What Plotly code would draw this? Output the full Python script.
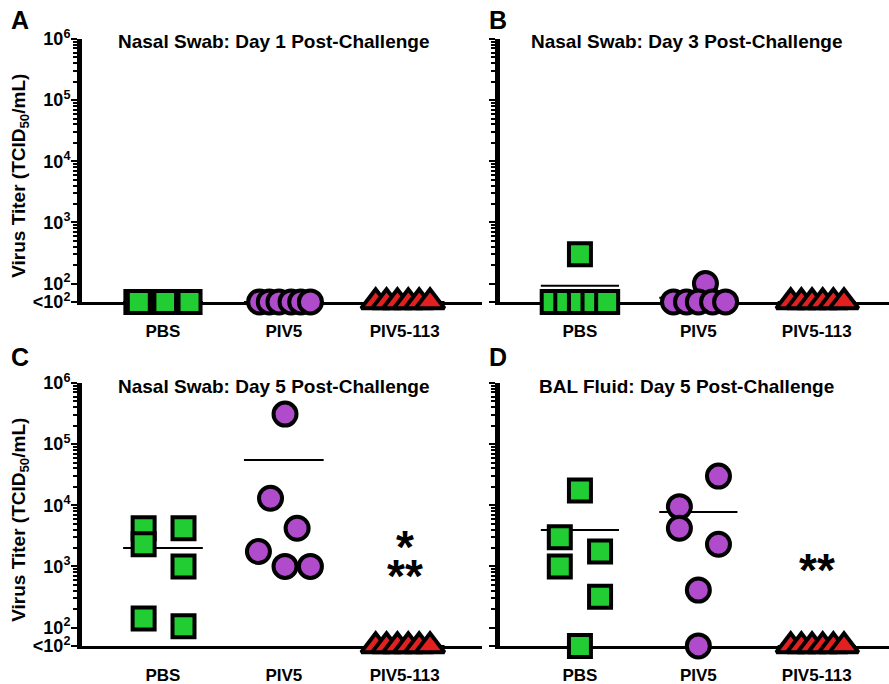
import numpy as np
import plotly.graph_objects as go

# ---------------- data ----------------
LOD = 10 ** 1.7  # plotted value for "<10^2" (below detection)
groups = ["PBS", "PIV5", "PIV5-113"]

A_pbs = [LOD] * 6
A_piv5 = [LOD] * 6
A_113 = [LOD] * 6

B_pbs = [300, LOD, LOD, LOD, LOD, LOD]
B_piv5 = [100, LOD, LOD, LOD, LOD, LOD]
B_113 = [LOD] * 6

C_pbs = [4200, 2300, 4200, 1000, 140, 105]
C_piv5 = [310000, 13000, 4200, 1750, 1000, 1000]
C_113 = [LOD] * 6

D_pbs = [17500, 3000, 1750, 1000, 320, LOD]
D_piv5 = [30000, 9500, 4200, 2300, 410, LOD]
D_113 = [LOD] * 6

titles = ["Nasal Swab: Day 1 Post-Challenge", "Nasal Swab: Day 3 Post-Challenge",
          "Nasal Swab: Day 5 Post-Challenge", "BAL Fluid: Day 5 Post-Challenge"]
panel_letters = ["A", "B", "C", "D"]
ytick_vals = [LOD, 1e2, 1e3, 1e4, 1e5, 1e6]
ytick_text = ["<10<sup>2</sup>", "10<sup>2</sup>", "10<sup>3</sup>", "10<sup>4</sup>",
              "10<sup>5</sup>", "10<sup>6</sup>"]
minor_vals = [m * 10 ** e for e in range(2, 6) for m in range(2, 10)]

# significance marks: (panel, group index, value, text)
sig_marks = [("C", 2, 10 ** 3.44, "*"), ("C", 2, 10 ** 2.95, "**"), ("D", 2, 10 ** 3.05, "**")]

# ---------------- layout / styling ----------------
jitter = {
    "A": [[-0.22, -0.2, 0.0, 0.02, 0.2, 0.22],
          [-0.2, -0.12, -0.04, 0.06, 0.14, 0.22],
          [-0.24, -0.15, -0.06, 0.03, 0.12, 0.21]],
    "B": [[0.0, -0.23, -0.115, 0.0, 0.115, 0.23],
          [0.06, -0.21, -0.1, 0.0, 0.12, 0.23],
          [-0.22, -0.13, -0.04, 0.05, 0.14, 0.23]],
    "C": [[-0.16, -0.16, 0.17, 0.17, -0.16, 0.17],
          [0.01, -0.11, 0.11, -0.21, 0.01, 0.22],
          [-0.24, -0.15, -0.06, 0.03, 0.12, 0.21]],
    "D": [[0.0, -0.17, 0.17, -0.17, 0.17, 0.0],
          [0.17, -0.16, -0.16, 0.17, 0.0, 0.0],
          [-0.22, -0.13, -0.04, 0.05, 0.14, 0.23]],
}
panel_data = {
    "A": [A_pbs, A_piv5, A_113],
    "B": [B_pbs, B_piv5, B_113],
    "C": [C_pbs, C_piv5, C_113],
    "D": [D_pbs, D_piv5, D_113],
}
W, H = 889, 684
dom = {
    "A": ([82 / W, 482 / W], [1 - 302 / H, 1 - 39 / H], [-0.67, 2.64]),
    "B": ([500 / W, 1.0], [1 - 302 / H, 1 - 39 / H], [-0.675, 2.61]),
    "C": ([82 / W, 482 / W], [1 - 646 / H, 1 - 383 / H], [-0.67, 2.64]),
    "D": ([500 / W, 1.0], [1 - 646 / H, 1 - 383 / H], [-0.675, 2.61]),
}
styles = [
    dict(symbol="square", size=22, color="#22cc33"),
    dict(symbol="circle", size=23, color="#b04ccc"),
    dict(symbol="triangle-up", size=25, color="#e22020"),
]
FONT = "Liberation Sans"
YMIN = np.log10(LOD) - 0.002

fig = go.Figure()
layout = dict(template="none", width=W, height=H, autosize=False,
              margin=dict(l=0, r=0, t=0, b=0, pad=0),
              paper_bgcolor="white", plot_bgcolor="rgba(0,0,0,0)", showlegend=False,
              font=dict(family=FONT, color="black"))
annotations = []

for i, p in enumerate(["A", "B", "C", "D"]):
    n = "" if i == 0 else str(i + 1)
    xa, ya = "x" + n, "y" + n
    xd, yd, xr = dom[p]
    # mean lines
    for g, vals in enumerate(panel_data[p]):
        m = float(np.mean(vals))
        fig.add_trace(go.Scatter(x=[g - 0.33, g + 0.33], y=[m, m], mode="lines",
                                 line=dict(color="black", width=2), xaxis=xa, yaxis=ya,
                                 cliponaxis=False, hoverinfo="skip"))
    # points
    for g, vals in enumerate(panel_data[p]):
        st = styles[g]
        xs = [g + o for o in jitter[p][g]]
        fig.add_trace(go.Scatter(x=xs, y=vals, mode="markers", xaxis=xa, yaxis=ya,
                                 cliponaxis=False,
                                 marker=dict(symbol=st["symbol"], size=st["size"], color=st["color"],
                                             line=dict(color="black", width=4))))
    show_labels = p in ("A", "C")
    layout["xaxis" + n] = dict(domain=xd, range=xr, anchor=ya, showgrid=False, zeroline=False,
                               showline=True, linecolor="black", linewidth=3,
                               tickmode="array", tickvals=[0, 1, 2], ticktext=groups,
                               ticks="outside", ticklen=12, tickcolor="rgba(0,0,0,0)",
                               tickfont=dict(family=FONT, size=17, weight="bold"),
                               layer="below traces", fixedrange=True, automargin=False)
    layout["yaxis" + n] = dict(domain=yd, type="log", range=[YMIN, 6], anchor=xa,
                               showgrid=False, zeroline=False, showline=True, linecolor="black",
                               linewidth=5, tickmode="array", tickvals=ytick_vals,
                               ticktext=ytick_text, ticks="outside", ticklen=6, tickwidth=2,
                               tickcolor="black", showticklabels=show_labels,
                               ticklabelstandoff=-3,
                               tickfont=dict(family=FONT, size=18, weight="bold"),
                               minor=dict(tickmode="array", tickvals=minor_vals, ticks="outside",
                                          ticklen=4, tickwidth=2, tickcolor="black"),
                               layer="below traces", fixedrange=True, automargin=False)
    # title
    annotations.append(dict(text=titles[i], xref="x" + n + " domain", yref="y" + n + " domain",
                            x=0.48, y=1.0, xanchor="center", yanchor="middle", showarrow=False,
                            yshift=-3, font=dict(family=FONT, size=19, weight="bold")))
    # panel letter
    lx = 20 / W if p in ("A", "C") else 498 / W
    ly = 1 - (20 / H) if p in ("A", "B") else 1 - (357 / H)
    annotations.append(dict(text=panel_letters[i], xref="paper", yref="paper", x=lx, y=ly,
                            xanchor="center", yanchor="middle", showarrow=False,
                            font=dict(family=FONT, size=25, weight="bold")))
    if show_labels:
        annotations.append(dict(text="Virus Titer (TCID<sub>50</sub>/mL)", xref="paper",
                                yref="y" + n + " domain", x=20 / W, y=0.48, textangle=-90,
                                xanchor="center", yanchor="middle", showarrow=False,
                                font=dict(family=FONT, size=19, weight="bold")))

panel_axis = {"A": "", "B": "2", "C": "3", "D": "4"}
for p, g, v, t in sig_marks:
    n = panel_axis[p]
    annotations.append(dict(text=t, xref="x" + n, yref="y" + n, x=g, y=np.log10(v),
                            xanchor="center", yanchor="middle", showarrow=False, yshift=-7,
                            font=dict(family=FONT, size=46, weight="bold")))

layout["annotations"] = annotations
fig.update_layout(**layout)
fig.write_html("out.html", config={"displayModeBar": False},
               post_script="document.body.style.margin='0';document.body.style.overflow='hidden';")
